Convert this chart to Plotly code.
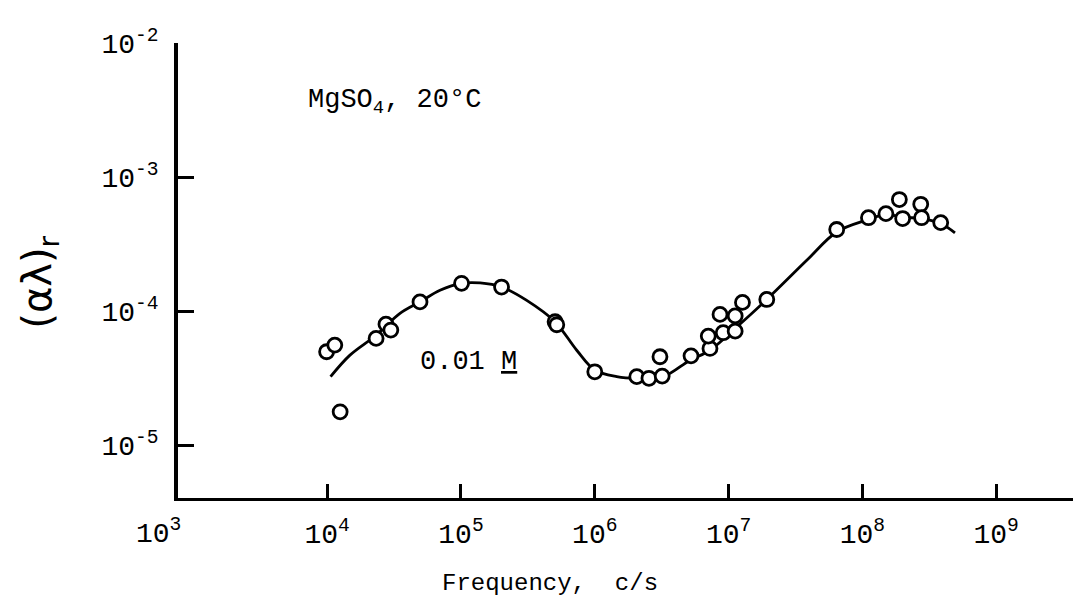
import plotly.graph_objects as go

# measured points (frequency c/s, (alpha lambda)_r)
freq_pts = [9.9e3, 1.14e4, 1.25e4, 2.32e4, 2.75e4, 2.99e4, 4.94e4, 1.01e5, 2.01e5,
            5.05e5, 5.2e5, 1.0e6, 2.06e6, 2.54e6, 3.19e6, 3.07e6, 5.24e6, 7.26e6,
            7.05e6, 9.12e6, 1.12e7, 8.63e6, 1.12e7, 1.27e7, 1.93e7, 6.43e7, 1.11e8,
            1.5e8, 1.89e8, 2.0e8, 2.73e8, 2.77e8, 3.85e8]
alr_pts = [4.97e-5, 5.57e-5, 1.77e-5, 6.25e-5, 7.98e-5, 7.21e-5, 1.17e-4, 1.61e-4, 1.51e-4,
           8.32e-5, 7.9e-5, 3.52e-5, 3.24e-5, 3.15e-5, 3.27e-5, 4.56e-5, 4.63e-5, 5.26e-5,
           6.50e-5, 6.89e-5, 7.08e-5, 9.44e-5, 9.2e-5, 1.16e-4, 1.22e-4, 4.06e-4, 4.97e-4,
           5.33e-4, 6.79e-4, 4.9e-4, 6.26e-4, 4.97e-4, 4.57e-4]

# drawn curve
freq_curve = [1.06e4, 1.48e4, 2.32e4, 3.5e4, 4.94e4, 6.97e4, 1.01e5, 1.39e5, 2.01e5,
              3.1e5, 5.05e5, 7.33e5, 1.0e6, 1.46e6, 2.06e6, 3.25e6, 5.15e6, 7.26e6,
              1.15e7, 1.93e7, 3.84e7, 6.43e7, 1.11e8, 1.5e8, 2.02e8, 2.77e8, 3.85e8, 4.92e8]
alr_curve = [3.24e-5, 4.69e-5, 6.6e-5, 9.6e-5, 1.17e-4, 1.43e-4, 1.61e-4, 1.62e-4, 1.51e-4,
             1.2e-4, 8.3e-5, 5.1e-5, 3.63e-5, 3.24e-5, 3.15e-5, 3.24e-5, 4.3e-5, 5.1e-5,
             7.6e-5, 1.22e-4, 2.39e-4, 3.89e-4, 4.82e-4, 5.27e-4, 5.01e-4, 4.9e-4, 4.5e-4, 3.83e-4]

x_tickvals = [1e4, 1e5, 1e6, 1e7, 1e8, 1e9]
x_ticktext = ["10<sup>4</sup>", "10<sup>5</sup>", "10<sup>6</sup>", "10<sup>7</sup>",
              "10<sup>8</sup>", "10<sup>9</sup>"]
y_tickvals = [1e-5, 1e-4, 1e-3, 1e-2]
y_ticktext = ["10<sup>-5</sup>", "10<sup>-4</sup>", "10<sup>-3</sup>", "10<sup>-2</sup>"]

FONT = "Liberation Mono"

fig = go.Figure()
fig.add_trace(go.Scatter(x=freq_curve, y=alr_curve, mode="lines",
                         line=dict(color="black", width=2.8, shape="spline", smoothing=1.0),
                         hoverinfo="skip", showlegend=False))
fig.add_trace(go.Scatter(x=freq_pts, y=alr_pts, mode="markers",
                         marker=dict(symbol="circle", size=14, color="white",
                                     line=dict(color="black", width=2.8)),
                         showlegend=False))

fig.update_layout(
    width=1073, height=599,
    margin=dict(l=170, r=0, t=35, b=109),
    paper_bgcolor="white", plot_bgcolor="white",
    font=dict(family=FONT, color="black", size=24),
    xaxis=dict(type="log", range=[2.885, 9.634], showgrid=False, zeroline=False,
               showline=True, linecolor="black", linewidth=3,
               ticks="inside", ticklen=14, tickwidth=2.5, tickcolor="black",
               tickvals=x_tickvals, ticktext=x_ticktext, ticklabelstandoff=8,
               tickfont=dict(family=FONT, size=28)),
    yaxis=dict(type="log", range=[-5.395, -2], showgrid=False, zeroline=False,
               showline=True, linecolor="black", linewidth=3.5,
               ticks="inside", ticklen=16, tickwidth=2.5, tickcolor="black",
               tickvals=y_tickvals, ticktext=y_ticktext, ticklabelstandoff=10,
               tickfont=dict(family=FONT, size=28)),
)

fig.add_annotation(text="10<sup>3</sup>", xref="paper", yref="paper", x=-0.022, y=-0.075,
                   xanchor="center", yanchor="middle", showarrow=False,
                   font=dict(family=FONT, size=28))
fig.add_annotation(text="Frequency,  c/s", xref="paper", yref="paper", x=0.412, y=-0.187,
                   xanchor="center", yanchor="middle", showarrow=False,
                   font=dict(family=FONT, size=24))
fig.add_annotation(text="MgSO<sub>4</sub>, 20°C", xref="paper", yref="paper", x=0.142, y=0.87,
                   xanchor="left", yanchor="middle", showarrow=False,
                   font=dict(family=FONT, size=27))
fig.add_annotation(text="0.01 <u>M</u>", xref="paper", yref="paper", x=0.266, y=0.30,
                   xanchor="left", yanchor="middle", showarrow=False,
                   font=dict(family=FONT, size=27))
fig.add_annotation(text="(αλ)<sub>r</sub>", xref="paper", yref="paper", x=-0.153, y=0.475,
                   xanchor="center", yanchor="middle", showarrow=False, textangle=-90,
                   font=dict(family="DejaVu Sans", size=40))

fig.write_html("out.html")
